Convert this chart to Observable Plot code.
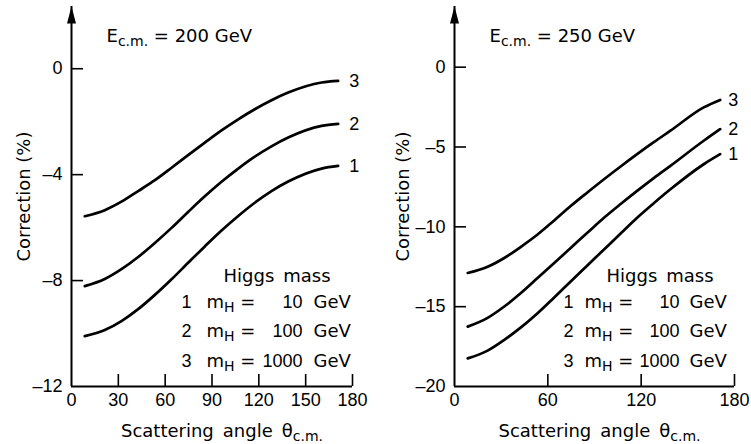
<!DOCTYPE html>
<html><head><meta charset="utf-8">
<script src="https://cdn.jsdelivr.net/npm/d3@7"></script>
<script src="https://cdn.jsdelivr.net/npm/@observablehq/plot@0.6"></script>
<style>
body{margin:0;background:#fff;}
#wrap{position:relative;width:751px;height:444px;overflow:hidden;background:#fff;}
#wrap svg{position:absolute;top:0;}
</style></head><body><div id="wrap"></div>
<script>
// scattering angle samples (degrees)
const angles = [8.5, 21.3, 32, 42.7, 53.4, 64.1, 74.7, 85.4, 96.1, 106.8, 117.4, 128.1, 138.8, 160.2, 170.8];
// E_cm = 200 GeV, correction (%)
const corr200_m10   = [-10.10, -9.87, -9.53, -9.08, -8.54, -7.95, -7.33, -6.71, -6.11, -5.56, -5.06, -4.62, -4.26, -3.77, -3.67];
const corr200_m100  = [-8.21, -7.94, -7.57, -7.11, -6.58, -6.01, -5.41, -4.82, -4.27, -3.77, -3.32, -2.93, -2.60, -2.16, -2.08];
const corr200_m1000 = [-5.57, -5.34, -5.02, -4.62, -4.21, -3.74, -3.26, -2.79, -2.33, -1.91, -1.53, -1.19, -0.90, -0.52, -0.46];
// E_cm = 250 GeV, correction (%)
const corr250_m10   = [-18.24, -17.75, -17.08, -16.30, -15.41, -14.42, -13.42, -12.42, -11.42, -10.42, -9.43, -8.52, -7.65, -6.08, -5.45];
const corr250_m100  = [-16.25, -15.70, -14.99, -14.15, -13.21, -12.26, -11.32, -10.37, -9.43, -8.57, -7.75, -6.95, -6.18, -4.61, -3.88];
const corr250_m1000 = [-12.89, -12.50, -11.95, -11.25, -10.48, -9.60, -8.70, -7.85, -7.02, -6.22, -5.45, -4.70, -3.98, -2.52, -2.05];
// labels
const curveIds = ["1", "2", "3"];
const higgsMasses = ["10", "100", "1000"];
const xTicks200 = [0, 30, 60, 90, 120, 150, 180];
const xTicks250 = [0, 60, 120, 180];
const yTicks200 = [0, -4, -8, -12];
const yTicks250 = [0, -5, -10, -15, -20];
const yDomain200 = [-12, 2.35];
const yDomain250 = [-20, 3.8];
const xDomain = [0, 180];

const FONT = "DejaVu Sans";
const NUMFONT = "Liberation Sans";
const FS = 18;
const H = 444, MT = 6, MB = 58, ML = 71;
const fmt = d => d < 0 ? "\u2013" + Math.abs(d) : String(d);

const arrowHead = {draw(ctx) { ctx.moveTo(0, 0); ctx.lineTo(-4.5, 17); ctx.lineTo(4.5, 17); ctx.closePath(); }};

function panel({energy, series, xTicks, yTicks, yDomain, width, marginRight, labelDx, lg, xLabelDx, yLabelDx}) {
  const rows = series.flatMap((vals, i) => vals.map((v, j) => ({angle: angles[j], corr: v, curve: curveIds[i]})));
  const ends = series.map((vals, i) => ({angle: angles[angles.length - 1], corr: vals[vals.length - 1], curve: curveIds[i]}));
  const frameH = H - MT - MB, frameW = width - ML - marginRight;
  const legend = [];
  legend.push(Plot.text(["Higgs\u2002mass"], {text: d => d, frameAnchor: "top-left", dx: 152, dy: 275.5, lineAnchor: "bottom", textAnchor: "start", fontSize: FS}));
  curveIds.forEach((id, i) => {
    const dy = 301 + i * 29.5;
    legend.push(Plot.text([id], {text: d => d, frameAnchor: "top-left", dx: lg.id, dy, lineAnchor: "bottom", textAnchor: "end", fontSize: FS, fontFamily: NUMFONT}));
    legend.push(Plot.text(["m_{H} ="], {text: d => d, frameAnchor: "top-left", dx: lg.m, dy, lineAnchor: "bottom", textAnchor: "start", fontSize: FS}));
    legend.push(Plot.text([higgsMasses[i]], {text: d => d, frameAnchor: "top-left", dx: lg.num, dy, lineAnchor: "bottom", textAnchor: "end", fontSize: FS, fontFamily: NUMFONT}));
    legend.push(Plot.text(["GeV"], {text: d => d, frameAnchor: "top-left", dx: lg.gev, dy, lineAnchor: "bottom", textAnchor: "start", fontSize: FS}));
  });
  const svg = Plot.plot({
    width, height: H,
    marginTop: MT, marginBottom: MB, marginLeft: ML, marginRight,
    style: {fontFamily: FONT, fontSize: FS + "px", color: "black", background: "white", overflow: "visible"},
    x: {domain: xDomain},
    y: {domain: yDomain},
    marks: [
      Plot.ruleY([yDomain[0]], {y: d => d, strokeWidth: 2}),
      Plot.ruleX([0], {x: d => d, strokeWidth: 2}),
      Plot.dot([yDomain[1]], {x: () => 0, y: d => d, symbol: arrowHead, fill: "black", stroke: "none"}),
      Plot.tickX(xTicks.filter(d => d > 0), {x: d => d, insetTop: frameH - 12, strokeWidth: 1.6}),
      Plot.tickY(yTicks.filter(d => d > yDomain[0]), {y: d => d, insetRight: frameW - 12, strokeWidth: 1.6}),
      Plot.axisX({ticks: xTicks, tickSize: 0, tickPadding: 7, label: null, fontSize: FS, fontFamily: NUMFONT, tickFormat: fmt}),
      Plot.axisY({ticks: yTicks, tickSize: 0, tickPadding: 9, label: null, fontSize: FS, fontFamily: NUMFONT, tickFormat: fmt}),
      Plot.line(rows, {x: "angle", y: "corr", z: "curve", curve: "monotone-x", strokeWidth: 2.7, stroke: "black"}),
      Plot.text(ends, {x: "angle", y: "corr", text: "curve", dx: labelDx, textAnchor: "start", fontSize: FS, fontFamily: NUMFONT}),
      Plot.text([`E_{c.m.} = ${energy} GeV`], {text: d => d, frameAnchor: "top-left", dx: 35, dy: 35.5, lineAnchor: "bottom", textAnchor: "start", fontSize: FS}),
      Plot.text(["Correction (%)"], {text: d => d, frameAnchor: "left", dx: yLabelDx, rotate: -90, textAnchor: "middle", fontSize: FS}),
      Plot.text(["Scattering\u2002angle\u2002\u03b8_{c.m.}"], {text: d => d, frameAnchor: "bottom", dx: xLabelDx, dy: 50, lineAnchor: "bottom", textAnchor: "middle", fontSize: FS}),
      ...legend
    ]
  });
  applySubscripts(svg);
  return svg;
}

function applySubscripts(svg) {
  const NS = "http://www.w3.org/2000/svg";
  d3.select(svg).selectAll("text").each(function () {
    const s = this.textContent;
    if (!s.includes("_{")) return;
    const parts = s.split(/(_\{[^}]*\})/).filter(p => p);
    this.textContent = "";
    let shift = 0;
    for (const p of parts) {
      const ts = document.createElementNS(NS, "tspan");
      if (p.startsWith("_{")) {
        ts.textContent = p.slice(2, -1);
        ts.setAttribute("font-size", "14px");
        ts.setAttribute("dy", 4 - shift);
        shift = 4;
      } else {
        ts.textContent = p;
        if (shift) ts.setAttribute("dy", -shift);
        shift = 0;
      }
      this.appendChild(ts);
    }
  });
}

const wrap = document.getElementById("wrap");
const left = panel({energy: "200", series: [corr200_m10, corr200_m100, corr200_m1000], xTicks: xTicks200, yTicks: yTicks200, yDomain: yDomain200, width: 380, marginRight: 28, labelDx: 11, lg: {id: 120, m: 135, num: 231, gev: 242}, xLabelDx: 10, yLabelDx: -47.5});
left.style.left = "0px";
wrap.appendChild(left);
const right = panel({energy: "250", series: [corr250_m10, corr250_m100, corr250_m1000], xTicks: xTicks250, yTicks: yTicks250, yDomain: yDomain250, width: 368, marginRight: 17, labelDx: 8, lg: {id: 119, m: 130, num: 225, gev: 235}, xLabelDx: 5, yLabelDx: -51});
right.style.left = "383px";
wrap.appendChild(right);
</script>
</body></html>
